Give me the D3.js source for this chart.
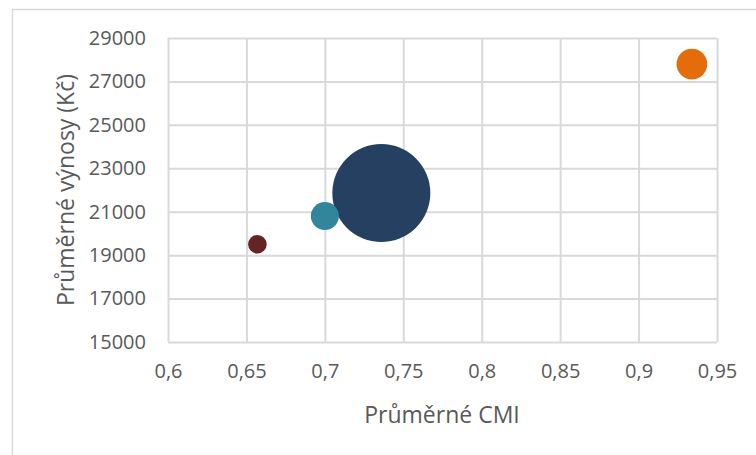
<!DOCTYPE html>
<html>
<head>
<meta charset="utf-8">
<script src="https://cdn.jsdelivr.net/npm/d3@7"></script>
<style>
  html, body { margin: 0; padding: 0; background: #fff; }
  svg { display: block; }
  text { font-family: "Open Sans", "Noto Sans", sans-serif; fill: #595959; }
</style>
</head>
<body>
<svg id="chart" width="756" height="455"></svg>
<script>
// Bubble data: average CMI, average revenue (CZK), bubble size, colour
const cmi     = [0.657, 0.700, 0.736, 0.934];
const revenue = [19500, 20800, 21860, 27800];
const sizes   = [36, 82, 1000, 98];
const colors  = ["#652424", "#31869b", "#254061", "#e46c0a"];

const xTicks = [0.6, 0.65, 0.7, 0.75, 0.8, 0.85, 0.9, 0.95];
const yTicks = [15000, 17000, 19000, 21000, 23000, 25000, 27000, 29000];

const svg = d3.select("#chart");
const W = 756, H = 455;
const plot = { left: 168, right: 717, top: 38, bottom: 342 };

// Chart frame (top and left edges visible)
svg.append("line").attr("x1", 12).attr("x2", W).attr("y1", 9.5).attr("y2", 9.5)
  .attr("stroke", "#d9d9d9").attr("stroke-width", 1.5);
svg.append("line").attr("x1", 12.5).attr("x2", 12.5).attr("y1", 9).attr("y2", H)
  .attr("stroke", "#d9d9d9").attr("stroke-width", 1.5);

const x = d3.scaleLinear().domain([0.6, 0.95]).range([plot.left, plot.right]);
const y = d3.scaleLinear().domain([15000, 29000]).range([plot.bottom, plot.top]);
const r = d3.scaleSqrt().domain([0, 1000]).range([0, 49]);

const fmtX = d => String(d).replace(".", ",");

// Gridlines via axes
const gx = svg.append("g").attr("transform", `translate(0,${plot.bottom})`)
  .call(d3.axisBottom(x).tickValues(xTicks).tickSize(-(plot.bottom - plot.top)).tickFormat(fmtX).tickPadding(16));
const gy = svg.append("g").attr("transform", `translate(${plot.left},0)`)
  .call(d3.axisLeft(y).tickValues(yTicks).tickSize(-(plot.right - plot.left)).tickFormat(d3.format("d")).tickPadding(22));

[gx, gy].forEach(g => {
  g.select(".domain").remove();
  g.selectAll(".tick line").attr("stroke", "#d9d9d9").attr("stroke-width", 2);
  g.selectAll(".tick text").attr("fill", "#595959").style("font-size", "20px");
});
gx.selectAll(".tick text").attr("dy", "1.0em");

// Bubbles, larger drawn first
const idx = d3.range(cmi.length).sort((a, b) => sizes[b] - sizes[a]);
svg.append("g").selectAll("circle").data(idx).join("circle")
  .attr("cx", i => x(cmi[i]))
  .attr("cy", i => y(revenue[i]))
  .attr("r", i => r(sizes[i]))
  .attr("fill", i => colors[i]);

// Axis titles
svg.append("text")
  .attr("x", 442).attr("y", 423)
  .attr("text-anchor", "middle").style("font-size", "23px")
  .text("Průměrné CMI");
svg.append("text")
  .attr("transform", `translate(74,${(plot.top + plot.bottom) / 2}) rotate(-90)`)
  .attr("text-anchor", "middle").style("font-size", "23px")
  .text("Průměrné výnosy (Kč)");
</script>
</body>
</html>
